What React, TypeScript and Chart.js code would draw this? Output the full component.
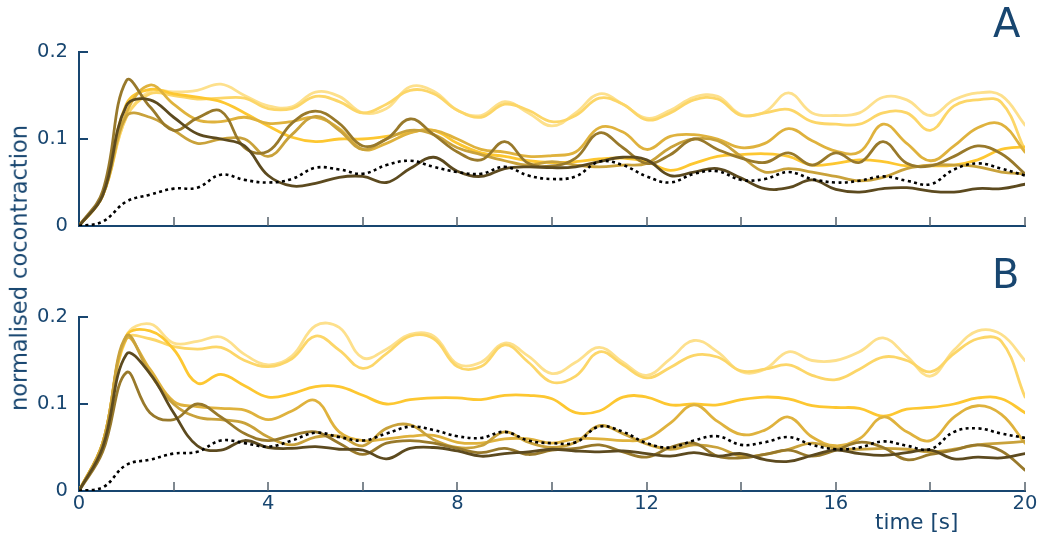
import React, { useEffect, useRef } from 'react';
import { Chart, registerables } from 'chart.js';

Chart.register(...registerables);

// time axis (s)
const TIME = [0, 0.5, 1, 1.5, 2, 2.5, 3, 3.5, 4, 4.5, 5, 5.5, 6, 6.5, 7, 7.5, 8, 8.5, 9, 9.5, 10, 10.5, 11, 11.5, 12, 12.5, 13, 13.5, 14, 14.5, 15, 15.5, 16, 16.5, 17, 17.5, 18, 18.5, 19, 19.5, 20];
const X_TICK_MARKS = [2, 4, 6, 8, 10, 12, 14, 16, 18, 20];
const Y_TICK_MARKS = [0.1, 0.2];

// Panel A series
const A_P1 = [0, 0.035, 0.125, 0.155, 0.154, 0.156, 0.163, 0.15, 0.138, 0.137, 0.154, 0.149, 0.13, 0.135, 0.16, 0.155, 0.133, 0.127, 0.143, 0.13, 0.115, 0.13, 0.152, 0.14, 0.124, 0.133, 0.148, 0.149, 0.128, 0.131, 0.153, 0.13, 0.127, 0.13, 0.148, 0.145, 0.127, 0.145, 0.153, 0.15, 0.116];
const A_P2 = [0, 0.035, 0.125, 0.152, 0.15, 0.146, 0.147, 0.147, 0.135, 0.135, 0.149, 0.143, 0.13, 0.14, 0.156, 0.152, 0.133, 0.125, 0.14, 0.133, 0.12, 0.127, 0.147, 0.14, 0.122, 0.13, 0.145, 0.146, 0.127, 0.13, 0.134, 0.12, 0.117, 0.117, 0.13, 0.13, 0.11, 0.138, 0.145, 0.142, 0.087];
const A_Y = [0, 0.035, 0.14, 0.157, 0.152, 0.148, 0.143, 0.13, 0.115, 0.102, 0.097, 0.1, 0.1, 0.103, 0.108, 0.11, 0.095, 0.084, 0.08, 0.075, 0.073, 0.074, 0.077, 0.078, 0.074, 0.064, 0.072, 0.08, 0.082, 0.083, 0.08, 0.07, 0.072, 0.076, 0.074, 0.069, 0.069, 0.07, 0.076, 0.088, 0.091];
const A_G1 = [0, 0.035, 0.13, 0.162, 0.14, 0.122, 0.12, 0.125, 0.118, 0.12, 0.125, 0.112, 0.088, 0.095, 0.107, 0.11, 0.1, 0.088, 0.085, 0.08, 0.081, 0.085, 0.113, 0.108, 0.088, 0.103, 0.105, 0.1, 0.09, 0.095, 0.112, 0.098, 0.086, 0.085, 0.117, 0.095, 0.075, 0.092, 0.113, 0.117, 0.085];
const A_G2 = [0, 0.035, 0.126, 0.125, 0.11, 0.095, 0.1, 0.1, 0.08, 0.105, 0.126, 0.11, 0.088, 0.1, 0.11, 0.105, 0.09, 0.082, 0.075, 0.07, 0.074, 0.07, 0.068, 0.07, 0.072, 0.09, 0.1, 0.098, 0.08, 0.062, 0.066, 0.062, 0.057, 0.052, 0.056, 0.066, 0.07, 0.07, 0.068, 0.062, 0.06];
const A_O = [0, 0.04, 0.167, 0.137, 0.11, 0.124, 0.132, 0.09, 0.086, 0.118, 0.132, 0.118, 0.092, 0.1, 0.123, 0.105, 0.085, 0.076, 0.097, 0.072, 0.069, 0.078, 0.107, 0.09, 0.072, 0.082, 0.1, 0.088, 0.078, 0.073, 0.084, 0.07, 0.084, 0.073, 0.097, 0.072, 0.069, 0.08, 0.092, 0.083, 0.06];
const A_D = [0, 0.035, 0.138, 0.145, 0.125, 0.106, 0.1, 0.092, 0.058, 0.046, 0.049, 0.056, 0.057, 0.05, 0.066, 0.079, 0.063, 0.057, 0.066, 0.068, 0.067, 0.068, 0.074, 0.079, 0.076, 0.058, 0.062, 0.066, 0.055, 0.043, 0.044, 0.053, 0.042, 0.039, 0.043, 0.044, 0.04, 0.039, 0.043, 0.043, 0.048];
const A_DOT = [0, 0.005, 0.028, 0.036, 0.043, 0.044, 0.059, 0.053, 0.05, 0.054, 0.067, 0.065, 0.06, 0.07, 0.075, 0.068, 0.062, 0.06, 0.068, 0.058, 0.054, 0.057, 0.074, 0.07, 0.057, 0.05, 0.06, 0.063, 0.053, 0.054, 0.062, 0.054, 0.05, 0.052, 0.057, 0.052, 0.048, 0.065, 0.072, 0.066, 0.058];

// Panel B series
const B_P1 = [0, 0.055, 0.178, 0.192, 0.17, 0.172, 0.177, 0.157, 0.145, 0.155, 0.19, 0.188, 0.153, 0.163, 0.18, 0.178, 0.146, 0.148, 0.17, 0.155, 0.135, 0.148, 0.165, 0.148, 0.133, 0.152, 0.173, 0.16, 0.137, 0.14, 0.16, 0.15, 0.15, 0.16, 0.176, 0.155, 0.132, 0.162, 0.184, 0.18, 0.15];
const B_P2 = [0, 0.055, 0.175, 0.175, 0.166, 0.163, 0.165, 0.15, 0.143, 0.152, 0.178, 0.162, 0.141, 0.158, 0.178, 0.175, 0.143, 0.143, 0.168, 0.148, 0.125, 0.132, 0.16, 0.145, 0.13, 0.142, 0.156, 0.154, 0.138, 0.14, 0.145, 0.133, 0.128, 0.14, 0.154, 0.15, 0.137, 0.158, 0.175, 0.172, 0.108];
const B_Y = [0, 0.055, 0.178, 0.184, 0.163, 0.124, 0.134, 0.121, 0.108, 0.112, 0.12, 0.12, 0.11, 0.1, 0.105, 0.107, 0.107, 0.105, 0.11, 0.11, 0.106, 0.09, 0.092, 0.108, 0.108, 0.099, 0.1, 0.099, 0.105, 0.108, 0.106, 0.098, 0.096, 0.095, 0.086, 0.094, 0.096, 0.1, 0.107, 0.106, 0.09];
const B_G1 = [0, 0.055, 0.175, 0.14, 0.103, 0.097, 0.095, 0.093, 0.082, 0.092, 0.104, 0.068, 0.058, 0.06, 0.063, 0.064, 0.056, 0.055, 0.06, 0.06, 0.055, 0.06, 0.06, 0.058, 0.06, 0.078, 0.099, 0.08, 0.065, 0.07, 0.085, 0.062, 0.052, 0.06, 0.085, 0.068, 0.058, 0.085, 0.098, 0.088, 0.055];
const B_G2 = [0, 0.055, 0.178, 0.135, 0.1, 0.085, 0.082, 0.078, 0.062, 0.053, 0.062, 0.063, 0.052, 0.072, 0.076, 0.059, 0.05, 0.052, 0.068, 0.056, 0.05, 0.056, 0.075, 0.066, 0.054, 0.048, 0.053, 0.05, 0.04, 0.042, 0.048, 0.055, 0.049, 0.048, 0.049, 0.048, 0.045, 0.048, 0.053, 0.055, 0.057];
const B_O = [0, 0.045, 0.136, 0.09, 0.082, 0.1, 0.085, 0.066, 0.058, 0.064, 0.068, 0.055, 0.042, 0.055, 0.058, 0.055, 0.049, 0.044, 0.049, 0.042, 0.047, 0.049, 0.053, 0.045, 0.039, 0.05, 0.055, 0.04, 0.038, 0.042, 0.047, 0.04, 0.047, 0.056, 0.05, 0.036, 0.042, 0.047, 0.053, 0.046, 0.024];
const B_D = [0, 0.05, 0.157, 0.135, 0.09, 0.052, 0.047, 0.058, 0.05, 0.049, 0.051, 0.048, 0.047, 0.037, 0.049, 0.05, 0.046, 0.04, 0.043, 0.045, 0.048, 0.046, 0.045, 0.046, 0.043, 0.04, 0.044, 0.04, 0.043, 0.036, 0.034, 0.041, 0.047, 0.043, 0.041, 0.044, 0.047, 0.037, 0.039, 0.038, 0.043];
const B_DOT = [0, 0.004, 0.03, 0.036, 0.043, 0.045, 0.058, 0.055, 0.051, 0.058, 0.067, 0.062, 0.058, 0.066, 0.074, 0.07, 0.063, 0.061, 0.068, 0.058, 0.055, 0.056, 0.074, 0.068, 0.055, 0.05, 0.058, 0.063, 0.053, 0.056, 0.062, 0.053, 0.048, 0.05, 0.057, 0.052, 0.048, 0.068, 0.072, 0.066, 0.061];

const COLORS = {
  P1: '#fde08c',
  P2: '#fcd668',
  Y: '#fdc731',
  G1: '#dfb23d',
  G2: '#c9a23b',
  O: '#98792b',
  D: '#5c4a1f',
  DOT: '#000000',
};

const AXIS = '#184670';
const TICK_MARK = '#55606b';
const FONT = '"DejaVu Sans", "Liberation Sans", Arial, sans-serif';

type SeriesSet = { P1: number[]; P2: number[]; Y: number[]; G1: number[]; G2: number[]; O: number[]; D: number[]; DOT: number[] };

const PANEL_A: SeriesSet = { P1: A_P1, P2: A_P2, Y: A_Y, G1: A_G1, G2: A_G2, O: A_O, D: A_D, DOT: A_DOT };
const PANEL_B: SeriesSet = { P1: B_P1, P2: B_P2, Y: B_Y, G1: B_G1, G2: B_G2, O: B_O, D: B_D, DOT: B_DOT };

function buildDatasets(s: SeriesSet) {
  const toPts = (arr: number[]) => TIME.map((t, i) => ({ x: t, y: arr[i] }));
  const solid = (arr: number[], color: string) => ({
    data: toPts(arr),
    borderColor: color,
    borderWidth: 2.8,
    pointRadius: 0,
    tension: 0.4,
    fill: false,
    borderCapStyle: 'round' as const,
    borderJoinStyle: 'round' as const,
  });
  return [
    {
      data: toPts(s.DOT),
      borderColor: COLORS.DOT,
      borderWidth: 2.6,
      borderDash: [3, 3.4],
      pointRadius: 0,
      tension: 0.4,
      fill: false,
      borderCapStyle: 'butt' as const,
    },
    solid(s.D, COLORS.D),
    solid(s.O, COLORS.O),
    solid(s.G2, COLORS.G2),
    solid(s.G1, COLORS.G1),
    solid(s.Y, COLORS.Y),
    solid(s.P2, COLORS.P2),
    solid(s.P1, COLORS.P1),
  ];
}

const tickMarks = {
  id: 'innerTickMarks',
  beforeDatasetsDraw(chart: any) {
    const { ctx, chartArea, scales } = chart;
    const xs = scales.x;
    const ys = scales.y;
    ctx.save();
    ctx.strokeStyle = TICK_MARK;
    ctx.lineWidth = 1.5;
    X_TICK_MARKS.forEach((v) => {
      const px = Math.round(xs.getPixelForValue(v));
      ctx.beginPath();
      ctx.moveTo(px, chartArea.bottom);
      ctx.lineTo(px, chartArea.bottom - 9);
      ctx.stroke();
    });
    ctx.strokeStyle = AXIS;
    ctx.lineWidth = 2;
    Y_TICK_MARKS.forEach((v) => {
      const py = Math.round(ys.getPixelForValue(v));
      ctx.beginPath();
      ctx.moveTo(chartArea.left - 1, py);
      ctx.lineTo(chartArea.left + 9, py);
      ctx.stroke();
    });
    ctx.restore();
  },
};

function Panel(props: { series: SeriesSet; top: number; height: number; xAxisHeight: number; showXLabels: boolean }) {
  const ref = useRef<HTMLCanvasElement>(null);
  useEffect(() => {
    if (!ref.current) return;
    const chart = new Chart(ref.current, {
      type: 'line',
      data: { datasets: buildDatasets(props.series) as any },
      options: {
        animation: false,
        responsive: false,
        devicePixelRatio: 1,
        events: [],
        layout: { padding: { top: 52, right: 17, left: 0, bottom: 0 } },
        plugins: { legend: { display: false }, tooltip: { enabled: false } },
        scales: {
          x: {
            type: 'linear',
            min: 0,
            max: 20,
            grid: { display: false, drawTicks: false },
            border: { display: true, color: AXIS, width: 2 },
            ticks: {
              display: props.showXLabels,
              stepSize: 4,
              color: AXIS,
              font: { family: FONT, size: 19.5 },
              padding: 1,
              maxRotation: 0,
              autoSkip: false,
              callback: (v: any) => String(v),
            },
            afterFit: (s: any) => {
              s.height = props.xAxisHeight;
            },
          },
          y: {
            type: 'linear',
            min: 0,
            max: 0.2,
            grid: { display: false, drawTicks: false },
            border: { display: true, color: AXIS, width: 2 },
            ticks: {
              stepSize: 0.1,
              color: AXIS,
              font: { family: FONT, size: 19.5 },
              padding: 11,
              callback: (v: any) => (Number(v) === 0 ? '0' : String(Math.round(Number(v) * 10) / 10)),
            },
            afterFit: (s: any) => {
              s.width = 79;
            },
          },
        },
      } as any,
      plugins: [tickMarks],
    });
    return () => chart.destroy();
  }, []);
  return (
    <canvas
      ref={ref}
      width={1042}
      height={props.height}
      style={{ position: 'absolute', left: 0, top: props.top, width: 1042, height: props.height }}
    />
  );
}

export default function App() {
  const text = { position: 'absolute' as const, color: AXIS, fontFamily: FONT, whiteSpace: 'nowrap' as const, lineHeight: 1 };
  return (
    <div style={{ position: 'fixed', left: 0, top: 0, width: 1042, height: 536, background: '#ffffff', overflow: 'hidden' }}>
      <Panel series={PANEL_A} top={0} height={265} xAxisHeight={39} showXLabels={false} />
      <Panel series={PANEL_B} top={265} height={271} xAxisHeight={45} showXLabels={true} />
      <div style={{ ...text, left: 993, top: 2.5, fontSize: 40 }}>A</div>
      <div style={{ ...text, left: 992, top: 253.5, fontSize: 40 }}>B</div>
      <div style={{ ...text, left: 875, top: 511, fontSize: 21.5 }}>time [s]</div>
      <div
        style={{
          ...text,
          left: 19,
          top: 268,
          fontSize: 22.5,
          transform: 'translate(-50%, -50%) rotate(-90deg)',
        }}
      >
        normalised cocontraction
      </div>
    </div>
  );
}
